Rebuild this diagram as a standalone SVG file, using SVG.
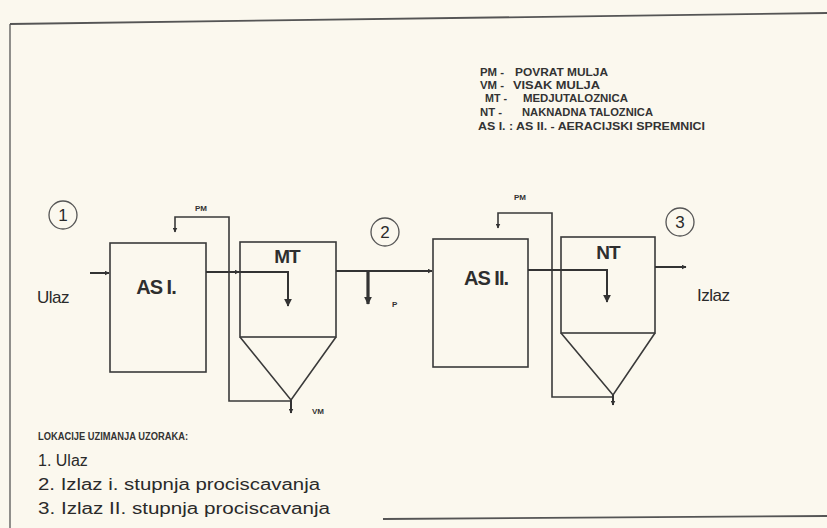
<svg xmlns="http://www.w3.org/2000/svg" width="827" height="528" viewBox="0 0 827 528">
<defs>
<style>
.ln{fill:none;stroke:#3a3a3a;stroke-width:1.6}
.fl{fill:none;stroke:#333;stroke-width:2}
.bx{fill:none;stroke:#3a3a3a;stroke-width:1.6}
.t{font-family:"Liberation Sans",Arial,sans-serif;fill:#2a2a2a}
.lg{font-family:"Liberation Sans",Arial,sans-serif;font-size:10.5px;font-weight:bold;fill:#333}
.lbl{font-family:"Liberation Sans",Arial,sans-serif;font-weight:bold;fill:#2e2e2e;letter-spacing:-1px}
.sm{font-family:"Liberation Sans",Arial,sans-serif;font-size:8px;font-weight:bold;fill:#333}
.cir{fill:none;stroke:#555;stroke-width:1.3}
</style>
<marker id="ah" viewBox="0 0 10 10" refX="9" refY="5" markerWidth="5" markerHeight="5" orient="auto" markerUnits="userSpaceOnUse">
<path d="M0,0 L10,5 L0,10 z" fill="#333"/>
</marker>
<marker id="ah2" viewBox="0 0 10 10" refX="9" refY="5" markerWidth="8" markerHeight="8" orient="auto" markerUnits="userSpaceOnUse">
<path d="M0,0 L10,5 L0,10 z" fill="#333"/>
</marker>
</defs>
<rect width="827" height="528" fill="#fbf8ee"/>
<g id="frame">
<path d="M10,24 L827,13" stroke="#555" stroke-width="1.8" fill="none"/>
<path d="M10,24 L10,528" stroke="#555" stroke-width="1.3" fill="none"/>
<path d="M383,519 L827,516" stroke="#555" stroke-width="1.8" fill="none"/>
</g>
<g id="legend">
<text class="lg" x="480" y="76" textLength="24" lengthAdjust="spacingAndGlyphs">PM -</text><text class="lg" x="515" y="76" textLength="93" lengthAdjust="spacingAndGlyphs">POVRAT MULJA</text>
<text class="lg" x="480" y="89" textLength="24" lengthAdjust="spacingAndGlyphs">VM -</text><text class="lg" x="513" y="89" textLength="87" lengthAdjust="spacingAndGlyphs">VISAK MULJA</text>
<text class="lg" x="485" y="102" textLength="22" lengthAdjust="spacingAndGlyphs">MT -</text><text class="lg" x="523" y="102" textLength="105" lengthAdjust="spacingAndGlyphs">MEDJUTALOZNICA</text>
<text class="lg" x="480" y="116" textLength="22" lengthAdjust="spacingAndGlyphs">NT -</text><text class="lg" x="522" y="116" textLength="131" lengthAdjust="spacingAndGlyphs">NAKNADNA TALOZNICA</text>
<text class="lg" x="478" y="130" textLength="227" lengthAdjust="spacingAndGlyphs">AS I. : AS II. - AERACIJSKI SPREMNICI</text>
</g>
<g id="point1"><circle class="cir" cx="63" cy="215" r="14"/><text class="t" x="63" y="221" font-size="17" text-anchor="middle">1</text></g>
<g id="point2"><circle class="cir" cx="385" cy="232" r="14"/><text class="t" x="385" y="238" font-size="17" text-anchor="middle">2</text></g>
<g id="point3"><circle class="cir" cx="680" cy="222" r="14"/><text class="t" x="680" y="228" font-size="17" text-anchor="middle">3</text></g>
<g id="ulaz"><text class="t" x="37" y="303" font-size="17" letter-spacing="-0.5">Ulaz</text></g>
<g id="izlaz"><text class="t" x="697" y="301" font-size="17" letter-spacing="-0.5">Izlaz</text></g>
<g id="as1"><rect class="bx" x="110" y="243" width="96" height="129"/><text class="lbl" x="156" y="294" font-size="20" text-anchor="middle">AS I.</text></g>
<g id="mt"><rect class="bx" x="240" y="242" width="96" height="95"/><path class="bx" d="M240,337 L291,400 L336,337"/><text class="lbl" x="287" y="263" font-size="19" text-anchor="middle">MT</text></g>
<g id="as2"><rect class="bx" x="433" y="239" width="95" height="128"/><text class="lbl" x="486" y="285" font-size="20" text-anchor="middle">AS II.</text></g>
<g id="nt"><rect class="bx" x="561" y="237" width="94" height="96"/><path class="bx" d="M561,333 L613,395 L655,333"/><text class="lbl" x="608" y="259" font-size="19" text-anchor="middle">NT</text></g>
<g id="connectors">
<path class="fl" d="M90,273 L109,273" marker-end="url(#ah)"/>
<path class="fl" d="M206,272 L239,272" marker-end="url(#ah)"/>
<path class="fl" d="M239,272 L288,272 L288,306" marker-end="url(#ah2)"/>
<path class="ln" d="M291,401 L229,401 L229,217 L175,217 L175,232" marker-end="url(#ah)"/>
<path class="fl" d="M291,400 L291,413" marker-end="url(#ah)"/>
<path class="fl" d="M336,271 L432,271" marker-end="url(#ah)"/>
<path d="M368,271 L368,304" stroke="#333" stroke-width="3.2" fill="none" marker-end="url(#ah2)"/>
<path class="ln" d="M613,397 L552,397 L552,213 L498,213 L498,228" marker-end="url(#ah)"/>
<path class="fl" d="M528,270 L607,270 L607,302" marker-end="url(#ah2)"/>
<path class="fl" d="M613,395 L613,405" marker-end="url(#ah)"/>
<path class="fl" d="M655,267 L686,267" marker-end="url(#ah)"/>
</g>
<g id="labels">
<text class="sm" x="201" y="211" text-anchor="middle">PM</text>
<text class="sm" x="520" y="200" text-anchor="middle">PM</text>
<text class="sm" x="312" y="414">VM</text>
<text class="sm" x="392" y="307">P</text>
</g>
<g id="locations">
<text class="lg" x="38" y="440" font-size="10" textLength="150" lengthAdjust="spacingAndGlyphs">LOKACIJE UZIMANJA UZORAKA:</text>
<text class="t" x="38" y="466" font-size="16">1. Ulaz</text>
<text class="t" x="38" y="490" font-size="16" textLength="282" lengthAdjust="spacingAndGlyphs">2. Izlaz i. stupnja prociscavanja</text>
<text class="t" x="38" y="514" font-size="16" textLength="292" lengthAdjust="spacingAndGlyphs">3. Izlaz II. stupnja prociscavanja</text>
</g>
</svg>
